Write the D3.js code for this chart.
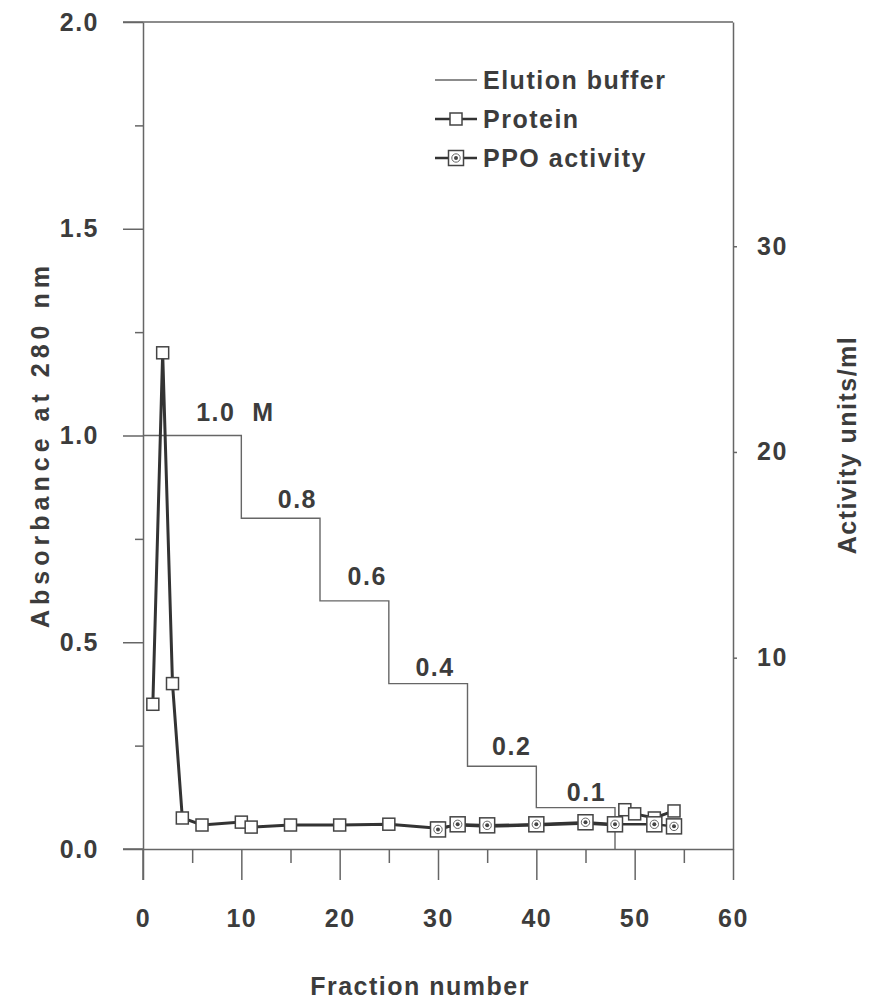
<!DOCTYPE html>
<meta charset="utf-8">
<style>
body { margin: 0; background: #fff; }
text { font-family: "Liberation Sans", Arial, sans-serif; font-weight: bold; font-size: 25px; fill: #3c3c3c; letter-spacing: 1.5px; }
.axis path, .axis line { stroke: #666; stroke-width: 1.5px; }
.frame { stroke: #666; stroke-width: 1.5px; fill: none; }
</style>
<svg id="chart" width="869" height="1003"></svg>
<script src="https://cdnjs.cloudflare.com/ajax/libs/d3/7.8.5/d3.min.js"></script>
<script>

// data
var fractionTicks = [0, 10, 20, 30, 40, 50, 60];
var fractionMinor = [5, 15, 25, 35, 45, 55];
var absTicks = [0, 0.5, 1.0, 1.5, 2.0];
var absMinor = [0.25, 0.75, 1.25, 1.75];
var activityTicks = [10, 20, 30];

var proteinFraction = [1, 2, 3, 4, 6, 10, 11, 15, 20, 25, 30, 32, 35, 40, 45, 48, 49, 50, 52, 54];
var proteinAbs = [0.35, 1.20, 0.40, 0.075, 0.058, 0.065, 0.053, 0.058, 0.058, 0.060,
                  0.050, 0.058, 0.055, 0.058, 0.062, 0.058, 0.095, 0.085, 0.075, 0.092];

var ppoFraction = [30, 32, 35, 40, 45, 48, 52, 54];
var ppoActivity = [1.65, 1.90, 1.85, 1.90, 2.00, 1.90, 1.90, 1.80];

var bufferFraction = [0, 10, 18, 25, 33, 40, 48];
var bufferConc = [1.0, 0.8, 0.6, 0.4, 0.2, 0.1, 0.0];
var bufferLabels = ["1.0  M", "0.8", "0.6", "0.4", "0.2", "0.1"];

var svg = d3.select("#chart");
var plotL = 143, plotR = 733, plotT = 22, plotB = 849;

var x = d3.scaleLinear().domain([0, 60]).range([plotL, plotR]);
var y = d3.scaleLinear().domain([0, 2]).range([plotB, plotT]);
var yAct = d3.scaleLinear().domain([0.7, 40.9]).range([plotB, plotT]);

// frame: top line and extensions
svg.append("line").attr("class", "frame")
  .attr("x1", plotL - 20).attr("x2", plotR).attr("y1", plotT).attr("y2", plotT);
svg.append("line").attr("class", "frame")
  .attr("x1", plotL - 20).attr("x2", plotL).attr("y1", plotB).attr("y2", plotB);
svg.append("line").attr("class", "frame")
  .attr("x1", plotL).attr("x2", plotL).attr("y1", plotB).attr("y2", plotB + 31);

// x axis
svg.append("g").attr("class", "axis")
  .attr("transform", "translate(0," + plotB + ")")
  .call(d3.axisBottom(x).tickValues(fractionTicks).tickSize(31).tickSizeOuter(0).tickPadding(29).tickFormat(d3.format("d")))
  .call(function(g){ g.selectAll("text").attr("fill", null); });
svg.append("g").attr("class", "axis")
  .attr("transform", "translate(0," + plotB + ")")
  .call(d3.axisBottom(x).tickValues(fractionMinor).tickSize(14).tickSizeOuter(0).tickFormat(""))
  .call(function(g){ g.select(".domain").remove(); });

// left axis
svg.append("g").attr("class", "axis")
  .attr("transform", "translate(" + plotL + ",0)")
  .call(d3.axisLeft(y).tickValues(absTicks).tickSize(20).tickSizeOuter(0).tickPadding(24).tickFormat(d3.format(".1f")))
  .call(function(g){ g.selectAll("text").attr("fill", null); });
svg.append("g").attr("class", "axis")
  .attr("transform", "translate(" + plotL + ",0)")
  .call(d3.axisLeft(y).tickValues(absMinor).tickSize(8).tickSizeOuter(0).tickFormat(""))
  .call(function(g){ g.select(".domain").remove(); });

// right axis
svg.append("g").attr("class", "axis")
  .attr("transform", "translate(" + plotR + ",0)")
  .call(d3.axisRight(yAct).tickValues(activityTicks).tickSize(4).tickSizeOuter(0).tickPadding(20))
  .call(function(g){ g.selectAll("text").attr("fill", null); });

// axis titles
svg.append("text")
  .attr("transform", "translate(" + 49 + "," + 447 + ") rotate(-90)")
  .attr("text-anchor", "middle")
  .attr("textLength", 362)
  .attr("lengthAdjust", "spacing")
  .style("letter-spacing", "0px")
  .text("Absorbance at 280 nm");
svg.append("text")
  .attr("transform", "translate(" + 856 + "," + 445 + ") rotate(-90)")
  .attr("text-anchor", "middle")
  .text("Activity units/ml");
svg.append("text")
  .attr("x", 420).attr("y", 995)
  .attr("text-anchor", "middle")
  .text("Fraction number");

// elution buffer step line
var bufferData = bufferFraction.map(function(f, i){ return [f, bufferConc[i]]; });
svg.append("path")
  .datum(bufferData)
  .attr("fill", "none")
  .attr("stroke", "#666")
  .attr("stroke-width", 1.4)
  .attr("d", d3.line().curve(d3.curveStepAfter)
    .x(function(d){ return x(d[0]); })
    .y(function(d){ return y(d[1]); }));

// step labels (center fraction, pixels above the step)
var labelAt = [9.4, 15.7, 22.8, 29.7, 37.5, 45.1];
var labelLift = [15, 10, 16, 8, 11, 7];
svg.selectAll(".stepLabel")
  .data(bufferLabels)
  .enter().append("text")
  .attr("class", "stepLabel")
  .attr("x", function(d, i){ return x(labelAt[i]); })
  .attr("y", function(d, i){ return y(bufferConc[i]) - labelLift[i]; })
  .attr("text-anchor", "middle")
  .style("white-space", "pre")
  .text(function(d){ return d; });

// protein + PPO lines
var protein = proteinFraction.map(function(f, i){ return [f, proteinAbs[i]]; });
var ppo = ppoFraction.map(function(f, i){ return [f, ppoActivity[i]]; });

svg.append("path").datum(ppo)
  .attr("fill", "none").attr("stroke", "#333").attr("stroke-width", 2.5)
  .attr("d", d3.line().x(function(d){ return x(d[0]); }).y(function(d){ return yAct(d[1]); }));
svg.append("path").datum(protein)
  .attr("fill", "none").attr("stroke", "#333").attr("stroke-width", 3)
  .attr("d", d3.line().x(function(d){ return x(d[0]); }).y(function(d){ return y(d[1]); }));

function square(sel, s) {
  sel.append("rect")
    .attr("x", -s / 2).attr("y", -s / 2).attr("width", s).attr("height", s)
    .attr("fill", "#fff").attr("stroke", "#444").attr("stroke-width", 1.5);
}
function ppoMark(sel) {
  square(sel, 15);
  sel.append("circle").attr("r", 4.2).attr("fill", "#fff").attr("stroke", "#666").attr("stroke-width", 1);
  sel.append("circle").attr("r", 2).attr("fill", "#444");
}

svg.selectAll(".protein")
  .data(protein).enter().append("g")
  .attr("class", "protein")
  .attr("transform", function(d){ return "translate(" + x(d[0]) + "," + y(d[1]) + ")"; })
  .call(square, 12);
svg.selectAll(".ppo")
  .data(ppo).enter().append("g")
  .attr("class", "ppo")
  .attr("transform", function(d){ return "translate(" + x(d[0]) + "," + yAct(d[1]) + ")"; })
  .call(ppoMark);

// legend
var legendNames = ["Elution buffer", "Protein", "PPO activity"];
var legend = svg.selectAll(".legend")
  .data(legendNames).enter().append("g")
  .attr("class", "legend")
  .attr("transform", function(d, i){ return "translate(435," + (80 + i * 39) + ")"; });
legend.append("line")
  .attr("x1", 0).attr("x2", 42)
  .attr("stroke", function(d, i){ return i === 0 ? "#666" : "#333"; })
  .attr("stroke-width", function(d, i){ return i === 0 ? 1.5 : 2.5; });
legend.filter(function(d, i){ return i === 1; }).call(function(g){
  g.append("g").attr("transform", "translate(21,0)").call(square, 12);
});
legend.filter(function(d, i){ return i === 2; }).call(function(g){
  g.append("g").attr("transform", "translate(21,0)").call(ppoMark);
});
legend.append("text")
  .attr("x", 48).attr("dy", "0.36em")
  .text(function(d){ return d; });

</script>
